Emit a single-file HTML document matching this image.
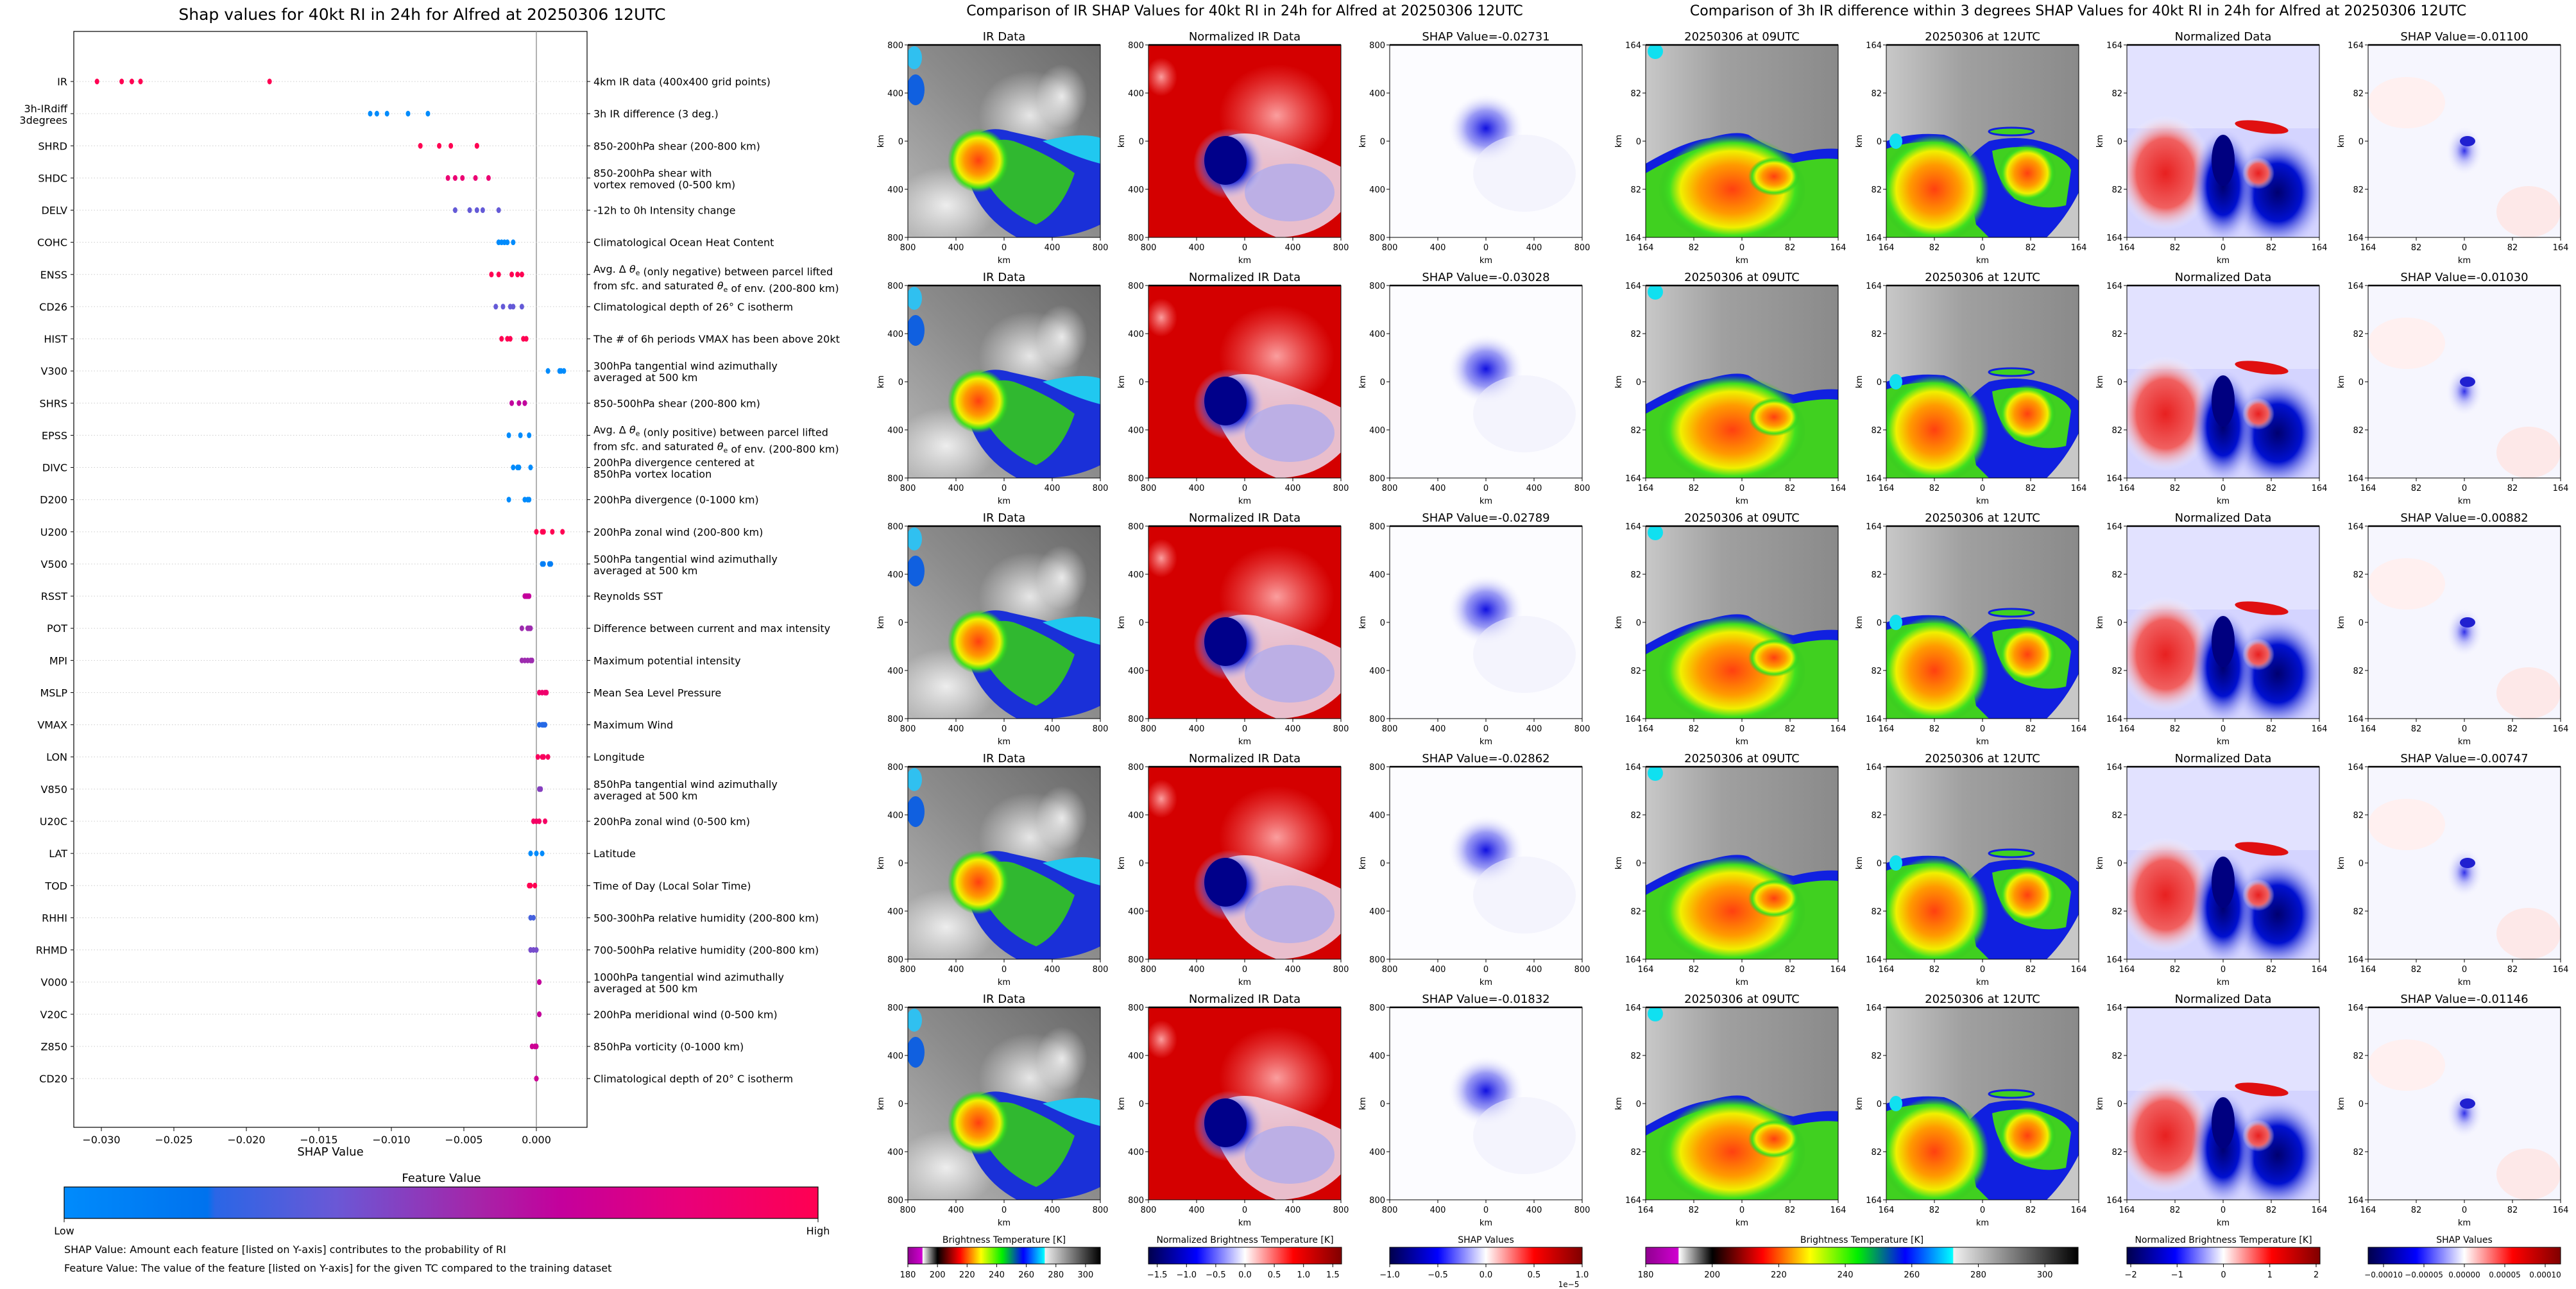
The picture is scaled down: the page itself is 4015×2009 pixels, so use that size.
<!DOCTYPE html>
<html><head><meta charset="utf-8">
<style>
html,body{margin:0;padding:0;background:#fff;}
svg{display:block;font-family:"DejaVu Sans","Liberation Sans",sans-serif;}
</style></head>
<body>
<svg id="fig" width="4015" height="2009" viewBox="0 0 4015 2009" xmlns="http://www.w3.org/2000/svg">
<defs>
<linearGradient id="fvGrad" x1="0" x2="1" y1="0" y2="0">
<stop offset="0" stop-color="#008bfc"/><stop offset="0.19" stop-color="#0072ee"/><stop offset="0.2" stop-color="#2a66e6"/>
<stop offset="0.36" stop-color="#6a58d6"/><stop offset="0.55" stop-color="#a624a8"/><stop offset="0.66" stop-color="#c4009c"/>
<stop offset="0.82" stop-color="#e8007a"/><stop offset="1" stop-color="#ff0052"/></linearGradient>
<linearGradient id="btGrad" x1="0" x2="1" y1="0" y2="0">
<stop offset="0" stop-color="#900090"/><stop offset="0.075" stop-color="#d000d0"/><stop offset="0.077" stop-color="#ffffff"/>
<stop offset="0.154" stop-color="#000000"/><stop offset="0.27" stop-color="#ff0000"/><stop offset="0.38" stop-color="#ffff00"/>
<stop offset="0.49" stop-color="#00f000"/><stop offset="0.6" stop-color="#0000ff"/><stop offset="0.71" stop-color="#00ffff"/>
<stop offset="0.712" stop-color="#f0f0f0"/><stop offset="1" stop-color="#000000"/></linearGradient>
<linearGradient id="seisGrad" x1="0" x2="1" y1="0" y2="0">
<stop offset="0" stop-color="#00004c"/><stop offset="0.25" stop-color="#0000ff"/><stop offset="0.5" stop-color="#ffffff"/>
<stop offset="0.75" stop-color="#ff0000"/><stop offset="1" stop-color="#800000"/></linearGradient>
<linearGradient id="grayBg" x1="0" y1="1" x2="1" y2="0"><stop offset="0" stop-color="#b8b8b8"/><stop offset="0.5" stop-color="#8c8c8c"/><stop offset="1" stop-color="#6a6a6a"/></linearGradient>
<linearGradient id="grayBg2" x1="0" y1="0" x2="1" y2="0"><stop offset="0" stop-color="#c8c8c8"/><stop offset="0.4" stop-color="#a0a0a0"/><stop offset="1" stop-color="#8a8a8a"/></linearGradient>
<radialGradient id="shapBlue"><stop offset="0" stop-color="#1010e0"/><stop offset="0.5" stop-color="#7070f0" stop-opacity="0.7"/><stop offset="1" stop-color="#ffffff" stop-opacity="0"/></radialGradient>
<radialGradient id="shapFaint"><stop offset="0" stop-color="#3030e8"/><stop offset="0.4" stop-color="#9a9af6" stop-opacity="0.6"/><stop offset="1" stop-color="#ffffff" stop-opacity="0"/></radialGradient>
<radialGradient id="hot"><stop offset="0" stop-color="#ff4010"/><stop offset="0.45" stop-color="#ff9a00"/><stop offset="0.7" stop-color="#f0f000"/><stop offset="0.85" stop-color="#40e020"/><stop offset="1" stop-color="#30c020" stop-opacity="0"/></radialGradient>
<radialGradient id="redSoft"><stop offset="0" stop-color="#e82020"/><stop offset="0.6" stop-color="#f06060"/><stop offset="1" stop-color="#ffffff" stop-opacity="0"/></radialGradient>
<radialGradient id="blueDeep"><stop offset="0" stop-color="#000070"/><stop offset="0.5" stop-color="#0010d0"/><stop offset="1" stop-color="#c8c8ff" stop-opacity="0"/></radialGradient>
<radialGradient id="whiteSoft"><stop offset="0" stop-color="#ffffff" stop-opacity="0.8"/><stop offset="1" stop-color="#ffffff" stop-opacity="0"/></radialGradient>
<radialGradient id="pinkSoft"><stop offset="0" stop-color="#ffb0b0" stop-opacity="0.9"/><stop offset="1" stop-color="#ff8080" stop-opacity="0"/></radialGradient>
</defs>
<g id="shapChart"></g>
<g id="panels"></g>
</svg>
<script>
// ===== SHAP summary chart data =====
const features = ["IR","3h-IRdiff|3degrees","SHRD","SHDC","DELV","COHC","ENSS","CD26","HIST","V300","SHRS","EPSS","DIVC","D200","U200","V500","RSST","POT","MPI","MSLP","VMAX","LON","V850","U20C","LAT","TOD","RHHI","RHMD","V000","V20C","Z850","CD20"];
const descriptions = ["4km IR data (400x400 grid points)","3h IR difference (3 deg.)","850-200hPa shear (200-800 km)","850-200hPa shear with|vortex removed (0-500 km)","-12h to 0h Intensity change","Climatological Ocean Heat Content","Avg. Δ θe (only negative) between parcel lifted|from sfc. and saturated θe of env. (200-800 km)","Climatological depth of 26° C isotherm","The # of 6h periods VMAX has been above 20kt","300hPa tangential wind azimuthally|averaged at 500 km","850-500hPa shear (200-800 km)","Avg. Δ θe (only positive) between parcel lifted|from sfc. and saturated θe of env. (200-800 km)","200hPa divergence centered at|850hPa vortex location","200hPa divergence (0-1000 km)","200hPa zonal wind (200-800 km)","500hPa tangential wind azimuthally|averaged at 500 km","Reynolds SST","Difference between current and max intensity","Maximum potential intensity","Mean Sea Level Pressure","Maximum Wind","Longitude","850hPa tangential wind azimuthally|averaged at 500 km","200hPa zonal wind (0-500 km)","Latitude","Time of Day (Local Solar Time)","500-300hPa relative humidity (200-800 km)","700-500hPa relative humidity (200-800 km)","1000hPa tangential wind azimuthally|averaged at 500 km","200hPa meridional wind (0-500 km)","850hPa vorticity (0-1000 km)","Climatological depth of 20° C isotherm"];
const shapValues = [
 [-0.0303,-0.0286,-0.0279,-0.0273,-0.0184],
 [-0.01146,-0.0110,-0.0103,-0.00885,-0.00748],
 [-0.0080,-0.0067,-0.0059,-0.0041,-0.0041],
 [-0.0061,-0.0056,-0.0051,-0.0042,-0.0033],
 [-0.0056,-0.0046,-0.0041,-0.0037,-0.0026],
 [-0.0026,-0.0024,-0.0022,-0.0020,-0.0016],
 [-0.0031,-0.0026,-0.0017,-0.0013,-0.0010],
 [-0.0028,-0.0023,-0.0018,-0.0016,-0.0010],
 [-0.0024,-0.0020,-0.0018,-0.0009,-0.0007],
 [0.0008,0.0016,0.0017,0.0019],
 [-0.0017,-0.0012,-0.0008,-0.0008],
 [-0.0019,-0.0011,-0.0005],
 [-0.0016,-0.0013,-0.0012,-0.0004],
 [-0.0019,-0.0008,-0.0006,-0.0005],
 [0.0000,0.0004,0.0005,0.0011,0.0018],
 [0.0004,0.0005,0.0009,0.0010],
 [-0.0008,-0.0007,-0.0006,-0.0005],
 [-0.0010,-0.0006,-0.0005,-0.0004],
 [-0.0010,-0.0008,-0.0006,-0.0004,-0.0003],
 [0.0002,0.0004,0.0006,0.0007],
 [0.0002,0.0004,0.0005,0.0006],
 [0.0001,0.0004,0.0005,0.0008],
 [0.0002,0.0003],
 [-0.0002,0.0000,0.0002,0.0006],
 [-0.0004,0.0000,0.0004],
 [-0.0005,-0.0004,-0.0001],
 [-0.0004,-0.0002],
 [-0.0004,-0.0002,0.0000],
 [0.0002,0.0002],
 [0.0002,0.0002],
 [-0.0003,-0.0001,0.0000],
 [0.0000,0.0000]
];
const featureLevel = [1,0,1,0.85,0.35,0,1,0.35,1,0,0.65,0,0,0,1,0.1,0.66,0.52,0.52,0.88,0.25,0.95,0.45,0.92,0,1,0.3,0.4,0.66,0.66,0.7,0.7];
const xTickValues = [-0.030,-0.025,-0.020,-0.015,-0.010,-0.005,0.000];
const xTickLabels = ["\u22120.030","\u22120.025","\u22120.020","\u22120.015","\u22120.010","\u22120.005","0.000"];

const NS="http://www.w3.org/2000/svg";
function mk(tag, attrs, parent, text){
  const e=document.createElementNS(NS,tag);
  for(const k in attrs) e.setAttribute(k,attrs[k]);
  if(text!==undefined) e.textContent=text;
  if(parent) parent.appendChild(e);
  return e;
}
const AX={left:115,right:915,top:49,bottom:1757};
const X0=836, PX_PER_UNIT=22600;
function xScale(v){return X0+v*PX_PER_UNIT;}
function yScale(i){return 127+i*50.13;}
const cmapStops=[[0,[0,139,252]],[0.19,[0,114,238]],[0.36,[106,88,214]],[0.55,[166,36,168]],[0.66,[196,0,156]],[0.82,[232,0,122]],[1,[255,0,82]]];
function cmap(t){
  for(let i=1;i<cmapStops.length;i++){
    if(t<=cmapStops[i][0]){
      const a=cmapStops[i-1],b=cmapStops[i];const f=(t-a[0])/(b[0]-a[0]);
      const c=a[1].map((v,j)=>Math.round(v+(b[1][j]-v)*f));
      return `rgb(${c[0]},${c[1]},${c[2]})`;
    }
  }
  return "rgb(255,0,82)";
}

const chart=document.getElementById('shapChart');
const title=mk('text',{x:658,y:31,'font-size':25,'text-anchor':'middle',fill:'#000'},chart,"Shap values for 40kt RI in 24h for Alfred at 20250306 12UTC");



const frame=mk('rect',{x:AX.left,y:AX.top,width:AX.right-AX.left,height:AX.bottom-AX.top,fill:'none',stroke:'#000','stroke-width':1.2},chart);



const zl=mk('line',{x1:xScale(0),x2:xScale(0),y1:AX.top,y2:AX.bottom,stroke:'#999','stroke-width':1.5},chart);



features.forEach((f,i)=>{
  const y=yScale(i);
  const g=mk('g',{},chart);
  
  
  mk('line',{x1:AX.left,x2:AX.right,y1:y,y2:y,stroke:'#ccc','stroke-width':1,'stroke-dasharray':'1.5,3'},g);
  mk('line',{x1:AX.left-5,x2:AX.left,y1:y,y2:y,stroke:'#000'},g);
  mk('line',{x1:AX.right,x2:AX.right+5,y1:y,y2:y,stroke:'#000'},g);
  const parts=f.split('|');
  if(parts.length===1){
    const t=mk('text',{x:AX.left-10,y:y+6,'font-size':16,'text-anchor':'end'},g,f);
    
    
  } else {
    const t1=mk('text',{x:AX.left-10,y:y-2,'font-size':16,'text-anchor':'end'},g,parts[0]);
    
    
    mk('text',{x:AX.left-10,y:y+16,'font-size':16,'text-anchor':'end'},g,parts[1]);
  }
  const dp=descriptions[i].split('|');
  const offs=dp.length===1?[6]:(descriptions[i].indexOf('θe')>=0?[-3,23]:[-2,16]);
  dp.forEach((line,k)=>{
    const t=mk('text',{x:AX.right+10,y:y+offs[k],'font-size':16},g);
    
    
    const segs=line.split('θe');
    segs.forEach((s,si)=>{
      mk('tspan',{},t,s);
      if(si<segs.length-1){mk('tspan',{'font-style':'italic'},t,'θ');mk('tspan',{'font-size':11,dy:4},t,'e');mk('tspan',{dy:-4},t,'');}
    });
  });
  shapValues[i].forEach(v=>{
    const d=mk('ellipse',{cx:xScale(v),cy:y,rx:3.5,ry:4.5,fill:cmap(featureLevel[i])},g);
    
    
  });
});
xTickValues.forEach((v,i)=>{
  const x=xScale(v);
  mk('line',{x1:x,x2:x,y1:AX.bottom,y2:AX.bottom+6,stroke:'#000'},chart);
  const t=mk('text',{x:x,y:AX.bottom+25,'font-size':16,'text-anchor':'middle'},chart,xTickLabels[i]);
  
  
});
const xl=mk('text',{x:515,y:1801,'font-size':18,'text-anchor':'middle'},chart,"SHAP Value");


const fvt=mk('text',{x:688,y:1842,'font-size':18,'text-anchor':'middle'},chart,"Feature Value");


const fvb=mk('rect',{x:100,y:1850,width:1175,height:49,fill:'url(#fvGrad)',stroke:'#000','stroke-width':1.2},chart);


mk('line',{x1:100,x2:100,y1:1899,y2:1905,stroke:'#000'},chart);
mk('line',{x1:1275,x2:1275,y1:1899,y2:1905,stroke:'#000'},chart);
const lo=mk('text',{x:100,y:1924,'font-size':16,'text-anchor':'middle'},chart,"Low");


const hi=mk('text',{x:1275,y:1924,'font-size':16,'text-anchor':'middle'},chart,"High");


const n1=mk('text',{x:100,y:1953,'font-size':16},chart,"SHAP Value: Amount each feature [listed on Y-axis] contributes to the probability of RI");


const n2=mk('text',{x:100,y:1982,'font-size':16},chart,"Feature Value: The value of the feature [listed on Y-axis] for the given TC compared to the training dataset");



// ===== Image panels =====
const irShap=["-0.02731","-0.03028","-0.02789","-0.02862","-0.01832"];
const diffShap=["-0.01100","-0.01030","-0.00882","-0.00747","-0.01146"];
const P=document.getElementById('panels');
const rowTops=[70,445,820,1195,1570];
const SZ=300;

function content(type,g){
  const W=SZ;
  if(type==='ir'){
    mk('rect',{width:W,height:W,fill:'url(#grayBg)'},g);
    mk('ellipse',{cx:190,cy:110,rx:80,ry:70,fill:'url(#whiteSoft)'},g);
    mk('ellipse',{cx:240,cy:80,rx:40,ry:50,fill:'url(#whiteSoft)'},g);
    mk('ellipse',{cx:60,cy:250,rx:80,ry:60,fill:'url(#whiteSoft)'},g);
    mk('path',{d:'M85 165 Q110 120 160 135 Q230 150 300 170 L300 280 Q260 300 210 300 L170 300 Q95 260 85 165Z',fill:'#1a30d8'},g);
    mk('path',{d:'M105 175 Q125 140 165 150 Q220 170 260 200 Q240 260 200 280 Q130 250 105 175Z',fill:'#30b830'},g);
    mk('ellipse',{cx:110,cy:180,rx:48,ry:50,fill:'url(#hot)'},g);
    mk('path',{d:'M210 150 Q270 135 300 145 L300 185 Q260 175 210 150Z',fill:'#20c8f0'},g);
    mk('ellipse',{cx:12,cy:70,rx:14,ry:24,fill:'#1060e0'},g);
    mk('ellipse',{cx:10,cy:20,rx:12,ry:18,fill:'#30c0f0'},g);
  } else if(type==='norm'){
    mk('rect',{width:W,height:W,fill:'#d40000'},g);
    mk('ellipse',{cx:200,cy:110,rx:90,ry:80,fill:'url(#pinkSoft)'},g);
    mk('path',{d:'M95 170 Q115 130 170 140 Q240 160 300 190 L300 260 Q260 300 200 300 Q120 270 95 170Z',fill:'#eeeeff',opacity:0.8},g);
    mk('ellipse',{cx:220,cy:230,rx:70,ry:45,fill:'#a8a8f0',opacity:0.7},g);
    mk('ellipse',{cx:125,cy:185,rx:55,ry:55,fill:'url(#blueDeep)'},g);
    mk('ellipse',{cx:120,cy:180,rx:33,ry:38,fill:'#00008a'},g);
    mk('ellipse',{cx:20,cy:50,rx:25,ry:30,fill:'url(#pinkSoft)'},g);
  } else if(type==='shap'){
    mk('rect',{width:W,height:W,fill:'#fcfcff'},g);
    mk('ellipse',{cx:150,cy:130,rx:60,ry:55,fill:'url(#shapBlue)'},g);
    mk('ellipse',{cx:210,cy:200,rx:80,ry:60,fill:'#eeeefc',opacity:0.6},g);
  } else if(type==='t09'){
    mk('rect',{width:W,height:W,fill:'url(#grayBg2)'},g);
    const d='M0 185 Q60 150 100 145 Q140 133 160 140 Q200 165 230 170 Q270 160 300 162 L300 300 L0 300Z';
    mk('path',{d:d,fill:'#1020e0'},g);
    mk('path',{d:'M0 200 Q60 165 100 158 Q140 148 160 155 Q200 180 230 184 Q270 175 300 178 L300 300 L0 300Z',fill:'#40d020'},g);
    mk('ellipse',{cx:135,cy:225,rx:115,ry:85,fill:'url(#hot)'},g);
    mk('ellipse',{cx:200,cy:205,rx:40,ry:30,fill:'url(#hot)'},g);
    mk('ellipse',{cx:15,cy:10,rx:12,ry:12,fill:'#10e0f0'},g);
  } else if(type==='t12'){
    mk('rect',{width:W,height:W,fill:'url(#grayBg2)'},g);
    mk('path',{d:'M0 150 Q40 135 90 140 Q120 150 130 175 Q145 160 160 150 Q200 140 240 150 Q280 160 300 180 L300 270 L280 300 L0 300Z',fill:'#1020e0'},g);
    mk('path',{d:'M0 162 Q40 148 88 152 Q115 165 122 190 L140 280 L160 300 L0 300Z',fill:'#40d020'},g);
    mk('path',{d:'M165 165 Q200 155 240 162 Q280 175 288 195 L280 250 Q240 260 200 240 Q170 210 165 165Z',fill:'#40d020'},g);
    mk('ellipse',{cx:75,cy:225,rx:85,ry:85,fill:'url(#hot)'},g);
    mk('ellipse',{cx:220,cy:200,rx:45,ry:45,fill:'url(#hot)'},g);
    mk('ellipse',{cx:195,cy:135,rx:35,ry:6,fill:'#40d020',stroke:'#1020e0','stroke-width':3},g);
    mk('path',{d:'M300 230 L300 300 L250 300 Q280 270 300 230Z',fill:'#c8c8c8'},g);
    mk('ellipse',{cx:15,cy:150,rx:10,ry:12,fill:'#10e0f0'},g);
  } else if(type==='ndiff'){
    mk('rect',{width:W,height:W,fill:'#d4d4ff'},g);
    mk('rect',{width:W,height:130,fill:'#e2e2ff'},g);
    mk('ellipse',{cx:60,cy:200,rx:75,ry:90,fill:'url(#redSoft)'},g);
    mk('ellipse',{cx:235,cy:230,rx:75,ry:90,fill:'url(#blueDeep)'},g);
    mk('ellipse',{cx:150,cy:220,rx:50,ry:90,fill:'url(#blueDeep)'},g);
    mk('ellipse',{cx:150,cy:180,rx:18,ry:40,fill:'#000080'},g);
    mk('ellipse',{cx:210,cy:128,rx:42,ry:9,fill:'#e01010',transform:'rotate(8 210 128)'},g);
    mk('ellipse',{cx:205,cy:200,rx:25,ry:25,fill:'url(#redSoft)'},g);
  } else if(type==='sdiff'){
    mk('rect',{width:W,height:W,fill:'#f6f6fe'},g);
    mk('ellipse',{cx:60,cy:90,rx:60,ry:40,fill:'#fff0f0'},g);
    mk('ellipse',{cx:250,cy:260,rx:50,ry:40,fill:'#fde8e8'},g);
    mk('ellipse',{cx:150,cy:165,rx:30,ry:40,fill:'url(#shapFaint)'},g);
    mk('ellipse',{cx:155,cy:150,rx:12,ry:8,fill:'#2020d0'},g);
  }
}

function panel(x,y,type,titleText,ticks,name){
  const g=mk('g',{},P);
  
  
  const t=mk('text',{x:x+SZ/2,y:y-7,'font-size':18,'text-anchor':'middle'},g,titleText);
  
  
  const clip=mk('svg',{x:x,y:y,width:SZ,height:SZ,viewBox:`0 0 ${SZ} ${SZ}`,overflow:'hidden'},g);
  content(type,clip);
  mk('rect',{x:x,y:y,width:SZ,height:SZ,fill:'none',stroke:'#000','stroke-width':1},g);
  mk('line',{x1:x,x2:x+SZ,y1:y,y2:y,stroke:'#000','stroke-width':2.5},g);
  for(let k=0;k<5;k++){
    const px=x+k*SZ/4, py=y+k*SZ/4;
    mk('line',{x1:px,x2:px,y1:y+SZ,y2:y+SZ+5,stroke:'#000'},g);
    mk('line',{x1:x-5,x2:x,y1:py,y2:py,stroke:'#000'},g);
    const tx=mk('text',{x:px,y:y+SZ+20,'font-size':13,'text-anchor':'middle'},g,ticks[k]);
    
    
    const ty=mk('text',{x:x-7,y:py+5,'font-size':13,'text-anchor':'end'},g,ticks[k]);
    
    
  }
  const xl=mk('text',{x:x+SZ/2,y:y+SZ+40,'font-size':13,'text-anchor':'middle'},g,'km');
  
  
  const yl=mk('text',{x:0,y:0,'font-size':13,'text-anchor':'middle',transform:`translate(${x-38},${y+SZ/2}) rotate(-90)`},g,'km');
  
  
}

const irTicks=["800","400","0","400","800"];
const dTicks=["164","82","0","82","164"];
const t1=mk('text',{x:1940,y:24,'font-size':22,'text-anchor':'middle'},P,"Comparison of IR SHAP Values for 40kt RI in 24h for Alfred at 20250306 12UTC");


const t2=mk('text',{x:3239,y:24,'font-size':22,'text-anchor':'middle'},P,"Comparison of 3h IR difference within 3 degrees SHAP Values for 40kt RI in 24h for Alfred at 20250306 12UTC");



rowTops.forEach((y,r)=>{
  panel(1415,y,'ir','IR Data',irTicks,'ir-data-panel');
  panel(1790,y,'norm','Normalized IR Data',irTicks,'normalized-ir-panel');
  panel(2166,y,'shap','SHAP Value='+irShap[r],irTicks,'ir-shap-panel');
  panel(2565,y,'t09','20250306 at 09UTC',dTicks,'ir-09utc-panel');
  panel(2940,y,'t12','20250306 at 12UTC',dTicks,'ir-12utc-panel');
  panel(3315,y,'ndiff','Normalized Data',dTicks,'normalized-diff-panel');
  panel(3691,y,'sdiff','SHAP Value='+diffShap[r],dTicks,'diff-shap-panel');
});

function cbar(x,w,grad,label,ticks,tickFrac,name,fs){
  const g=mk('g',{},P);
  
  
  const l=mk('text',{x:x+w/2,y:1937,'font-size':14,'text-anchor':'middle'},g,label);
  
  
  mk('rect',{x:x,y:1944,width:w,height:26,fill:`url(#${grad})`,stroke:'#000','stroke-width':1},g);
  ticks.forEach((tk,i)=>{
    const px=x+tickFrac[i]*w;
    mk('line',{x1:px,x2:px,y1:1970,y2:1975,stroke:'#000'},g);
    const t=mk('text',{x:px,y:1991,'font-size':fs||13,'text-anchor':'middle'},g,tk);
    
    
  });
}
const btTicks=["180","200","220","240","260","280","300"];
const btFrac=btTicks.map(v=>(+v-180)/130);
cbar(1415,300,'btGrad','Brightness Temperature [K]',btTicks,btFrac,'brightness-colorbar-1');
const n15=["\u22121.5","\u22121.0","\u22120.5","0.0","0.5","1.0","1.5"];
cbar(1790,301,'seisGrad','Normalized Brightness Temperature [K]',n15,n15.map((v,i)=>(i-3)*0.5/3.3+0.5),'normalized-colorbar-1');
const s10=["\u22121.0","\u22120.5","0.0","0.5","1.0"];
cbar(2166,300,'seisGrad','SHAP Values',s10,[0,0.25,0.5,0.75,1],'shap-colorbar-1');
const e5=mk('text',{x:2445,y:2006,'font-size':12,'text-anchor':'middle'},P,"1e\u22125");


cbar(2565,674,'btGrad','Brightness Temperature [K]',btTicks,btFrac,'brightness-colorbar-2');
const n2t=["\u22122","\u22121","0","1","2"];
cbar(3315,301,'seisGrad','Normalized Brightness Temperature [K]',n2t,[0.02,0.26,0.5,0.74,0.98],'normalized-colorbar-2');
const s5=["\u22120.00010","\u22120.00005","0.00000","0.00005","0.00010"];
cbar(3691,300,'seisGrad','SHAP Values',s5,[0.08,0.29,0.5,0.71,0.92],'shap-colorbar-2',12);
</script>
</body></html>
